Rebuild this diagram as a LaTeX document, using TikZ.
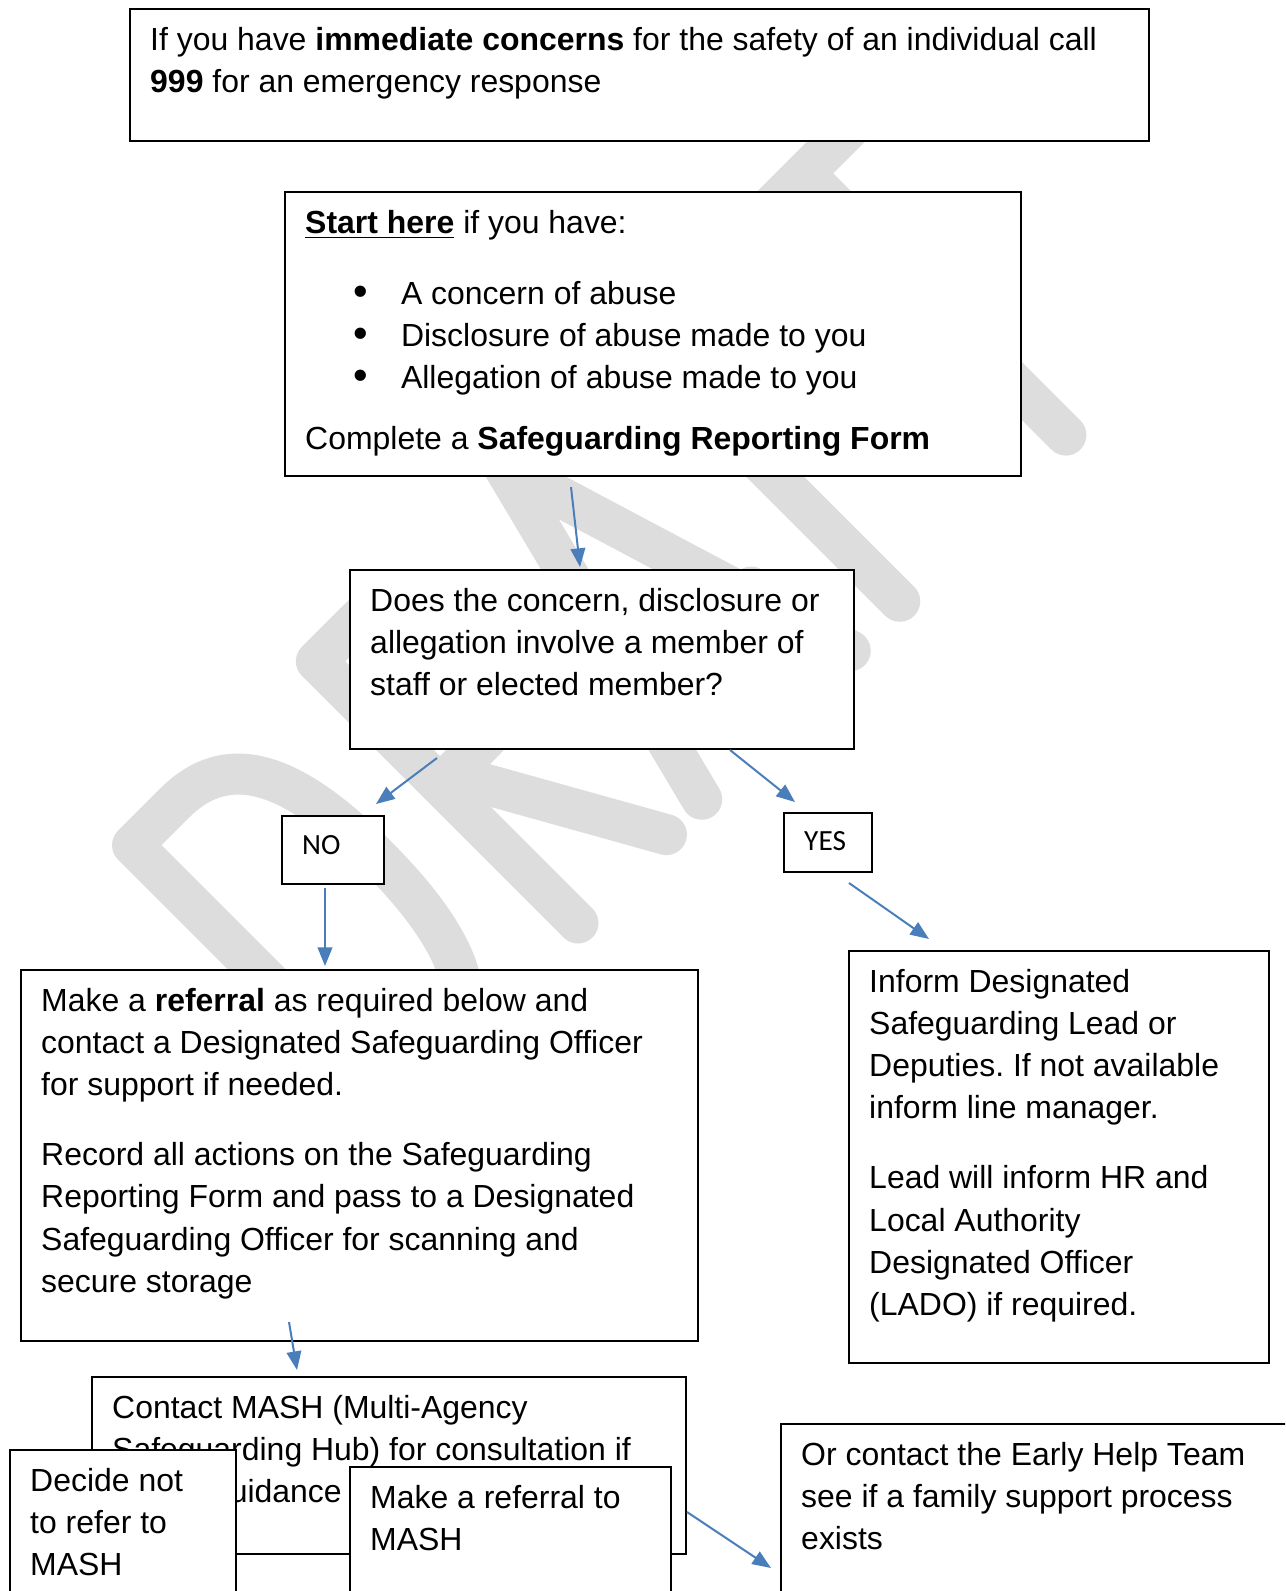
\documentclass[tikz,border=0pt]{standalone}
\usepackage{fontspec}
\usepackage{graphicx}
\setmainfont{Liberation Sans}
\newfontfamily\calibri{Carlito}
\usetikzlibrary{arrows.meta, positioning, calc}

\definecolor{flowblue}{HTML}{4A7EBB}
\definecolor{draftgray}{HTML}{DDDDDD}

\newlength\px
\setlength\px{0.3756pt}
% text block of a box: [first baseline]{width}{height}{text}, sizes in px
\newcommand{\boxtext}[4][15.4pt]{\parbox[t][#3\px][t]{\dimexpr#2\px-15.2pt\relax}{\raggedright\frenchspacing\rule{0pt}{#1}#4}}
\newcommand{\bulletitem}{\hspace*{18pt}\makebox[18pt][l]{\raisebox{-0.4pt}{\scalebox{1.3}{\textbullet}}}}

\tikzset{
  box/.style={draw, fill=white, line width=0.75pt, anchor=north west,
    inner xsep=7.6pt, inner ysep=0pt, font=\fontsize{12}{15.87}\selectfont},
  tag/.style={box, font=\calibri\fontsize{11}{13.4}\selectfont},
  flow/.style={-{Triangle[length=7pt,width=5.5pt]}, draw=flowblue, line width=0.75pt}
}

\begin{document}
\begin{tikzpicture}[x=0.3756pt, y=-0.3756pt]
  \useasboundingbox (0,0) rectangle (1285,1591);
  \clip (0,0) rectangle (1285,1591);

  % DRAFT watermark
  \begin{scope}[shift={(578,923)}, x={(0.2656pt,0.2656pt)}, y={(-0.2656pt,0.2656pt)},
      color=draftgray, line width=15.4pt, line cap=round, line join=round]
    \draw (-260,0) -- (-260,370) -- (-200,370) .. controls (-120,370) and (-95,300) .. (-95,190)
      .. controls (-95,80) and (-120,0) .. (-200,0) -- cycle;
    \draw (0,0) -- (0,370) -- (60,370) .. controls (105,370) and (125,345) .. (125,285)
      .. controls (125,225) and (105,195) .. (60,195) -- (0,195);
    \draw (15,195) -- (125,0);
    \draw (175,0) -- (270,375) -- (385,0);
    \draw (200,115) -- (360,115);
    \draw (590,370) -- (455,370) -- (455,0);
    \draw (455,195) -- (580,195);
    \draw (585,370) -- (805,370);
    \draw (690,370) -- (690,0);
  \end{scope}

  % boxes
  \node[box] (alert) at (129,8) {\boxtext{1019}{132}{If you have \textbf{immediate concerns} for the safety of an individual call\\
    \textbf{999} for an emergency response}};

  \node[box] (start) at (284,191) {\boxtext{736}{284}{\underline{\textbf{Start here}} if you have:\\[10.8pt]
    \bulletitem A concern of abuse\\
    \bulletitem Disclosure of abuse made to you\\
    \bulletitem Allegation of abuse made to you\\[7pt]
    Complete a \textbf{Safeguarding Reporting Form}}};

  \node[box] (query) at (349,569) {\boxtext{504}{179}{Does the concern, disclosure or\\
    allegation involve a member of\\ staff or elected member?}};

  \node[tag] (no) at (281,815) {\boxtext[14.5pt]{102}{68}{NO}};
  \node[tag] (yes) at (783,812) {\boxtext[14.1pt]{88}{59}{YES}};

  \node[box] (referral) at (20,969) {\boxtext{677}{371}{Make a \textbf{referral} as required below and\\
    contact a Designated Safeguarding Officer\\ for support if needed.\\[10.5pt]
    Record all actions on the Safeguarding\\ Reporting Form and pass to a Designated\\
    Safeguarding Officer for scanning and\\ secure storage}};

  \node[box] (inform) at (848,950) {\boxtext{420}{412}{Inform Designated\\ Safeguarding Lead or\\
    Deputies. If not available\\ inform line manager.\\[10.5pt]
    Lead will inform HR and\\ Local Authority\\ Designated Officer\\ (LADO) if required.}};

  \node[box] (mash) at (91,1376) {\boxtext{594}{177}{Contact MASH (Multi-Agency\\
    Safeguarding Hub) for consultation if\\ \hspace*{37.5pt}guidance}};

  \node[box] (decide) at (9,1449) {\boxtext{226}{170}{Decide not\\ to refer to\\ MASH}};
  \node[box] (mashref) at (349,1466) {\boxtext{321}{150}{Make a referral to\\ MASH}};
  \node[box] (earlyhelp) at (780,1423) {\boxtext{530}{200}{Or contact the Early Help Team\\
    see if a family support process\\ exists}};

  % arrows
  \draw[flow] ($(start.south west)+(287,10)$) -- ($(query.north west)+(231,-2)$);
  \draw[flow] ($(query.south west)+(88,8)$) -- ($(no.north west)+(95,-11)$);
  \draw[flow] ($(query.south west)+(381,0)$) -- ($(yes.north west)+(12,-10)$);
  \draw[flow] ($(no.south west)+(44,3)$) -- ($(referral.north west)+(305,-3)$);
  \draw[flow] ($(yes.south west)+(66,10)$) -- ($(inform.north west)+(81,-11)$);
  \draw[flow] ($(referral.south west)+(269,-20)$) -- ($(mash.north west)+(206,-6)$);
  \draw[flow] ($(mash.north east)+(0,136)$) -- ($(earlyhelp.north west)+(-9,145)$);
\end{tikzpicture}
\end{document}
